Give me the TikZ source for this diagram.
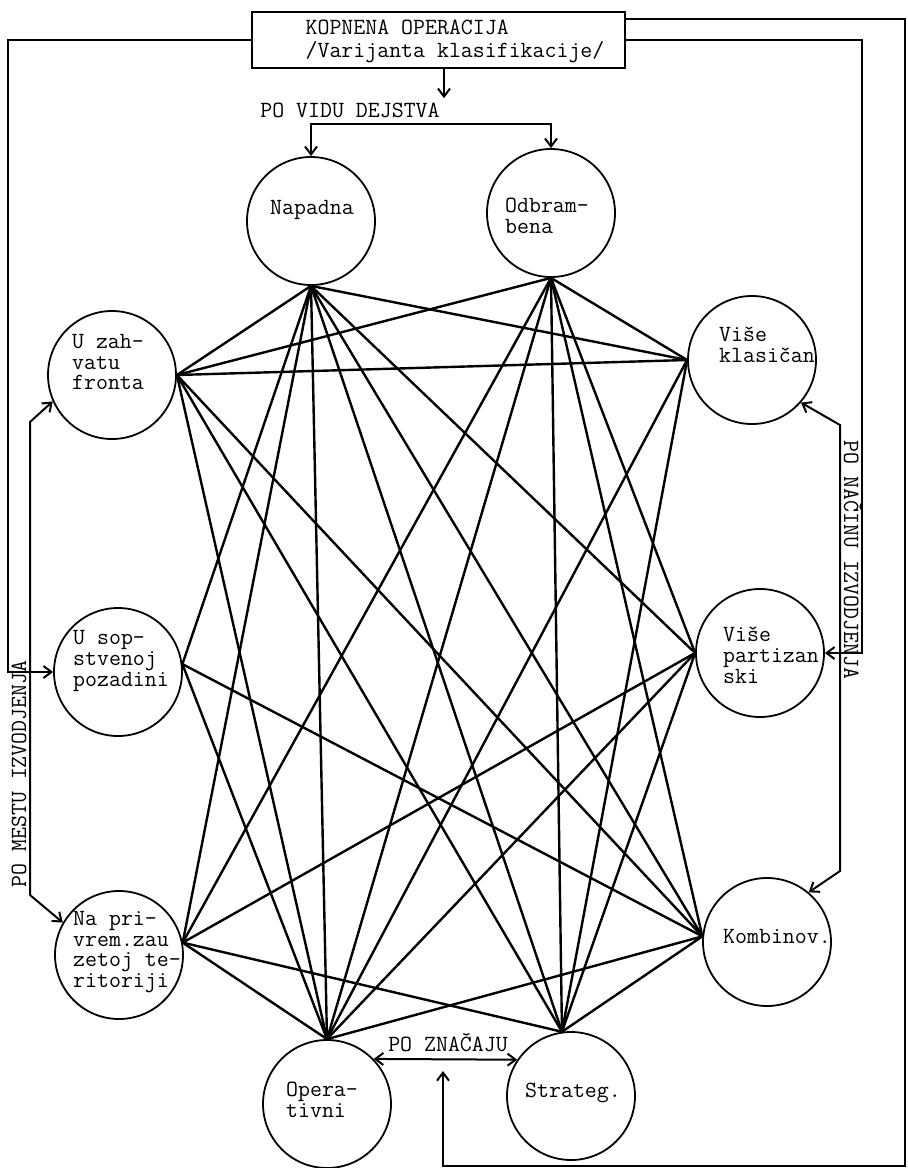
\documentclass[tikz,border=0pt]{standalone}
\usepackage{fontspec}
\usetikzlibrary{arrows.meta}

\begin{document}
\begin{tikzpicture}[x=0.5pt, y=-0.5pt,
    >={Straight Barb[length=4pt,width=6pt]},
    krug/.style={circle, draw, line width=0.9pt, minimum size=64pt, inner sep=0pt},
    tekst/.style={font=\ttfamily\addfontfeatures{FakeBold=1.2}\fontsize{11.6}{10.4}\selectfont, align=left, inner sep=2pt},
    veza/.style={line width=1.2pt},
    ramka/.style={line width=1pt}]
    \useasboundingbox (0,0) rectangle (908,1168);

    % glavni okvir
    \node[draw, ramka, minimum width=186.5pt, minimum height=28pt] (koren) at (438.5,40) {};
    \node[tekst, font=\ttfamily\addfontfeatures{FakeBold=1.2}\fontsize{11.6}{11.5}\selectfont] (naslov) at (455,41) {KOPNENA OPERACIJA\\/Varijanta klasifikacije/};

    % krugovi
    \node[krug] (napadna) at (311,221) {};
    \node[krug] (odbrambena) at (551,213) {};
    \node[krug] (uzahvatu) at (112,375) {};
    \node[krug] (usop) at (118,672) {};
    \node[krug] (naprivrem) at (119,955) {};
    \node[krug] (vklas) at (752,360) {};
    \node[krug] (vpart) at (760,653) {};
    \node[krug] (kombinov) at (767,942) {};
    \node[krug] (operativni) at (327,1104) {};
    \node[krug] (strateg) at (571,1096) {};

    \node[tekst] (napadna-l) at (312,210) {Napadna};
    \node[tekst] (odbrambena-l) at (547,216) {Odbram-\\bena};
    \node[tekst] (uzahvatu-l) at (108,362) {U zah-\\vatu\\fronta};
    \node[tekst] (usop-l) at (121,661) {U sop-\\stvenoj\\pozadini};
    \node[tekst] (naprivrem-l) at (127,952) {Na pri-\\vrem.zau\\zetoj te-\\ritoriji};
    \node[tekst] (vklas-l) at (767,345) {Više\\klasičan};
    \node[tekst] (vpart-l) at (771,655) {Više\\partizan\\ski};
    \node[tekst] (kombinov-l) at (777,936) {Kombinov.};
    \node[tekst] (operativni-l) at (322,1100) {Opera-\\tivni};
    \node[tekst] (strateg-l) at (573,1093) {Strateg.};

    % oznake grupa
    \node[tekst] (povidu) at (350,110) {PO VIDU DEJSTVA};
    \node[tekst] (poznacaju) at (448,1043) {PO ZNAČAJU};
    \node[tekst, rotate=90] (pomestu) at (19,774) {PO MESTU IZVODJENJA};
    \node[tekst, rotate=-90] (ponacinu) at (853,560) {PO NAČINU IZVODJENJA};
    \coordinate (znacaj) at (443,1071);

    % strelice od okvira
    \draw[ramka,->] (koren.south -| povidu.east) -- (povidu.north east);
    \draw[ramka,<->] (napadna.north) -- ++(0,-32) -| (odbrambena.north);
    \draw[ramka,->] (koren.west) -| (8,672) -- (usop.west);
    \draw[ramka,<->] (uzahvatu.204) -- (30,422) -- (30,895) -- (naprivrem.150);
    \draw[ramka,->] (koren.east) -| (862,653) -- (vpart.east);
    \draw[ramka,<->] (vklas.319) -- (840,425) -- (840,871) -- (kombinov.50);
    \draw[ramka,->] ([yshift=-4pt]koren.north east) -| (905,1166) -| (znacaj);
    \draw[ramka,<->] (operativni.44) -- (strateg.146);

    % veze
    \draw[veza] (napadna.south) edge (uzahvatu.east) edge (usop.7) edge (naprivrem.11)
        edge (vklas.west) edge (vpart.west) edge (kombinov.175)
        edge (operativni.north) edge (strateg.98);
    \draw[veza] (odbrambena.south) edge (uzahvatu.east) edge (naprivrem.11)
        edge (vklas.west) edge (vpart.west) edge (kombinov.175)
        edge (operativni.north) edge (strateg.98);
    \draw[veza] (uzahvatu.east) edge (vklas.west) edge (kombinov.175)
        edge (operativni.north) edge (strateg.98);
    \draw[veza] (usop.7) edge (kombinov.175) edge (operativni.north);
    \draw[veza] (naprivrem.11) edge (vpart.west) edge (operativni.north) edge (strateg.98);
    \draw[veza] (vklas.west) edge (operativni.north) edge (strateg.98);
    \draw[veza] (vpart.west) edge (operativni.north) edge (strateg.98);
    \draw[veza] (kombinov.175) edge (operativni.north) edge (strateg.98);
\end{tikzpicture}
\end{document}
